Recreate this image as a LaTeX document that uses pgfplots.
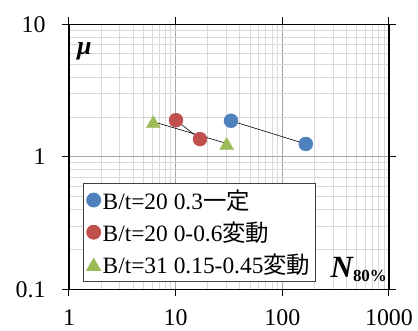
\documentclass[border=0pt]{standalone}
\usepackage{pgfplots}
\pgfplotsset{compat=1.18}
\usepackage{fontspec}
\setmainfont{Liberation Serif}
\newfontfamily\jp{Noto Sans CJK JP}
\definecolor{sBlue}{RGB}{79,129,189}
\definecolor{sRed}{RGB}{192,80,77}
\definecolor{sGreen}{RGB}{155,187,89}

\begin{document}
\begin{tikzpicture}
\begin{axis}[
  xmode=log, ymode=log,
  scale only axis, width=320bp, height=265bp,
  xmin=1, xmax=1000, ymin=0.1, ymax=10,
  xtick={1,10,100,1000}, xticklabels={1,10,100,1000},
  ytick={0.1,1,10}, yticklabels={0.1,1,10},
  minor xtick={2,3,4,5,6,7,8,9,20,30,40,50,60,70,80,90,200,300,400,500,600,700,800,900},
  minor ytick={0.2,0.3,0.4,0.5,0.6,0.7,0.8,0.9,2,3,4,5,6,7,8,9},
  grid=both,
  major grid style={draw=gray!70, line width=0.8bp},
  minor grid style={draw=gray!30, line width=0.8bp},
  tick align=outside, major tick length=7bp, minor tick length=0pt,
  tick style={black, line width=1bp},
  axis line style={black, line width=1.2bp},
  /pgf/number format/assume math mode=true,
  ticklabel style={font=\fontsize{24}{28}\selectfont},
  xticklabel style={yshift=-10bp},
  yticklabel style={xshift=-13bp},
  legend cell align=left,
  legend style={at={(rel axis cs:0.043,0.03)}, anchor=south west,
    draw=black!75, line width=0.8bp, fill=white,
    font=\fontsize{23.5}{25}\selectfont,
    inner xsep=3.5bp, inner ysep=4bp, row sep=7bp,
    nodes={inner sep=2bp}},
  legend image code/.code={\draw[#1] plot coordinates {(0bp,0bp)};},
]
\addplot[only marks, mark=*, mark size=7bp, color=sBlue] coordinates {(33,1.87) (166,1.25)};
\addlegendentry{B/t=20 0.3{\jp 一定}}
\addplot[only marks, mark=*, mark size=7bp, color=sRed] coordinates {(10.07,1.89) (16.9,1.36)};
\addlegendentry{B/t=20 0-0.6{\jp 変動}}
\addplot[only marks, mark=triangle*, mark size=8bp, color=sGreen,
  mark options={yshift=-2bp}] coordinates {(6.17,1.84) (30.1,1.26)};
\addlegendentry{B/t=31 0.15-0.45{\jp 変動}}

% connecting lines for each pair
\addplot[black, line width=0.6bp, forget plot] coordinates {(33,1.87) (166,1.25)};
\addplot[black, line width=0.6bp, forget plot] coordinates {(10.07,1.89) (16.9,1.36)};
\addplot[black, line width=0.6bp, forget plot] coordinates {(6.17,1.84) (30.1,1.26)};

\node[font=\fontsize{26}{28}\selectfont\bfseries\itshape, anchor=base west, inner sep=0pt]
  at (rel axis cs:0.025,0.885) {μ};
\node[anchor=base east, inner sep=0pt] at (rel axis cs:0.994,0.045)
  {{\fontsize{31}{33}\selectfont\bfseries\itshape N}\raisebox{-4bp}{\fontsize{17}{19}\selectfont\bfseries 80\%}};
\end{axis}
\pgfresetboundingbox
\path (current axis.south west) ++(-69bp,-41.7bp) rectangle ++(418bp,331bp);
\end{tikzpicture}
\end{document}
